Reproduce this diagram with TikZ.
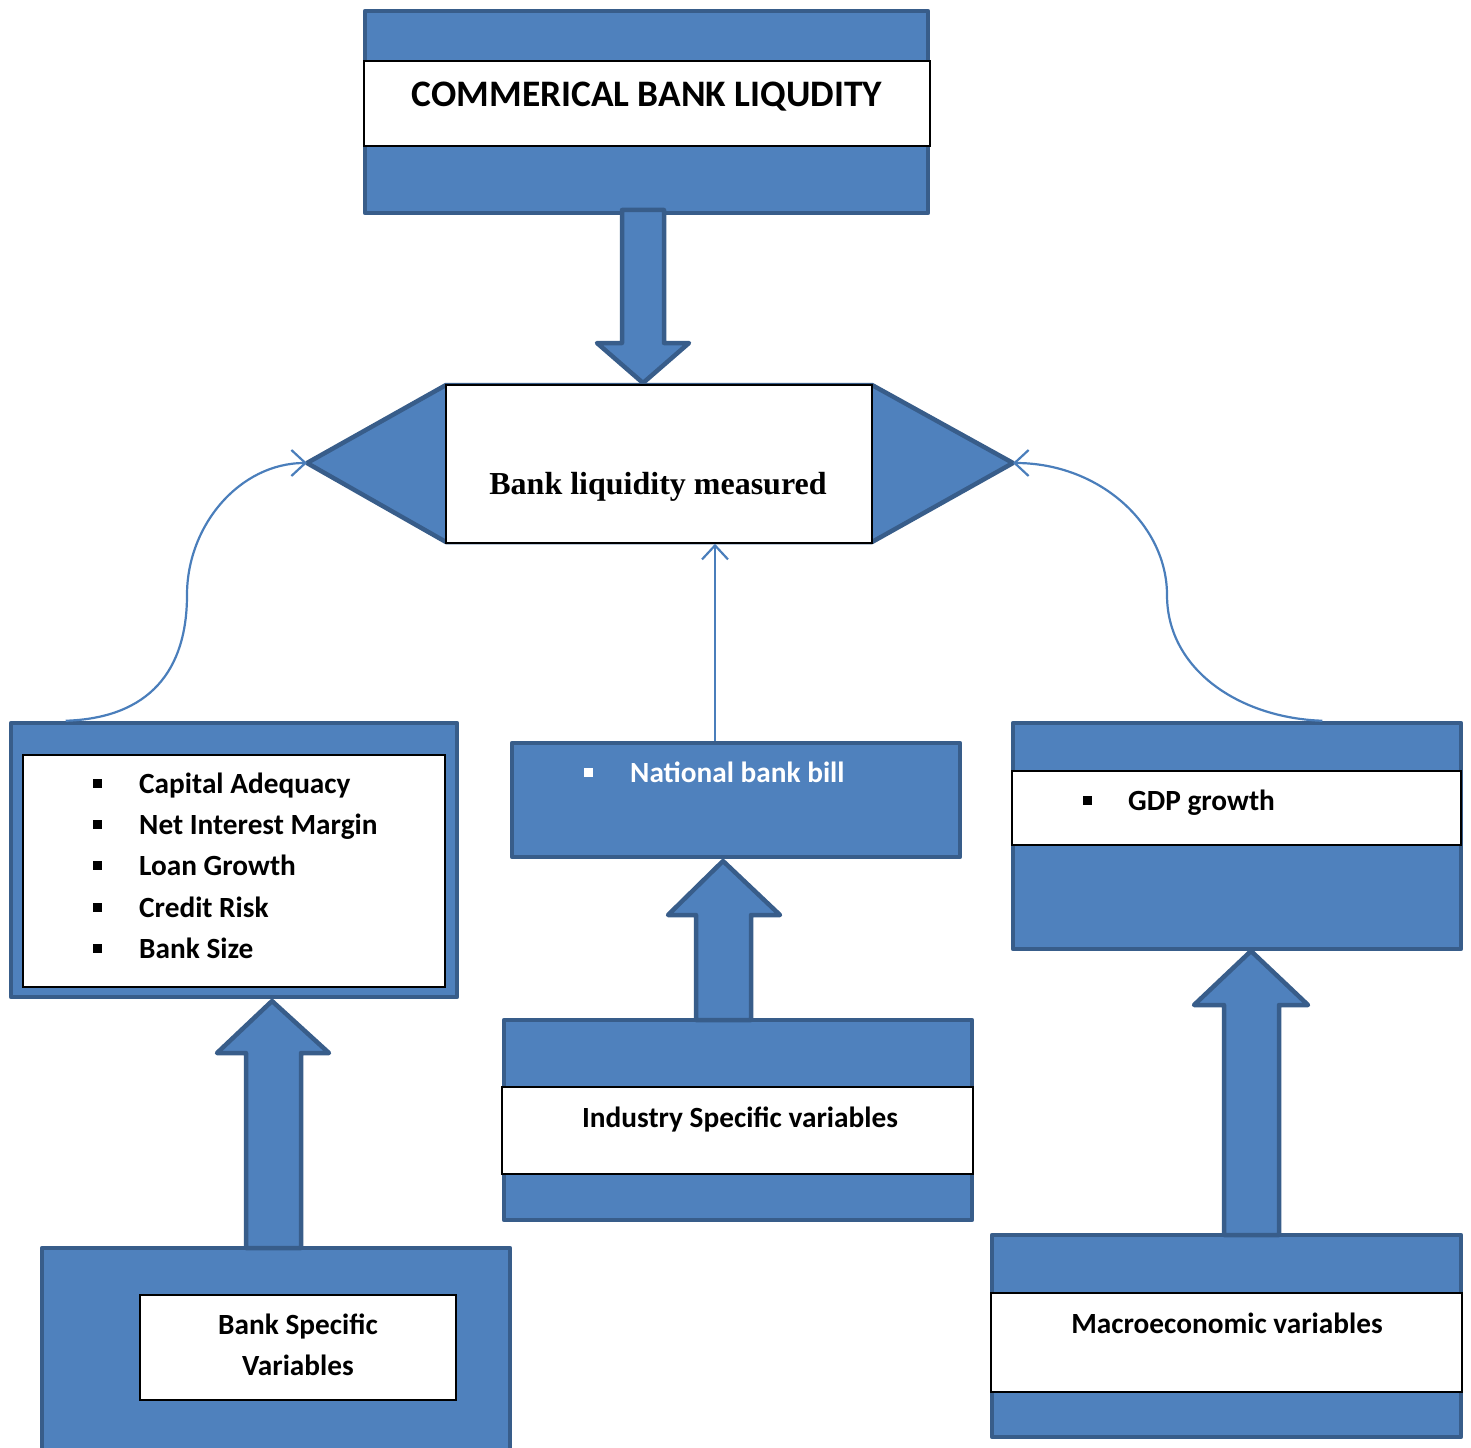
\documentclass[tikz,border=0pt]{standalone}
\usepackage{fontspec}
\setmainfont{Carlito}
\newfontfamily\timesf{Liberation Serif}
\usetikzlibrary{arrows.meta,fit}
\definecolor{fillb}{HTML}{4F81BD}
\definecolor{edgeb}{HTML}{385D8A}
\definecolor{linkb}{HTML}{4A7EBB}
\newcommand{\sqbul}{\raisebox{5.5pt}{\rule{9pt}{9pt}}}
\begin{document}
\begin{tikzpicture}[x=1pt,y=-1pt,
  blk/.style={draw=edgeb, fill=fillb, line width=4.5pt, line join=round, inner sep=0pt},
  band/.style={draw=black, fill=white, line width=1.6pt, inner sep=0pt},
  link/.style={draw=linkb, line width=2.2pt, -{Straight Barb[length=14pt,width=26pt,line width=2.2pt]}},
  lbl/.style={font=\bfseries\fontsize{29.3}{34}\selectfont, inner sep=0pt},
  ttl/.style={font=\bfseries\fontsize{37.4}{42}\selectfont, inner sep=0pt},
]
\useasboundingbox (0,0) rectangle (1471,1447);
\clip (0,0) rectangle (1471,1447);

% ---- top box
\node[blk, fit={(365,11) (928,213)}] (top) {};
\node[band, fit={(364,61) (930,146)}] (topband) {};
\node[ttl, anchor=base] (title) at (647,107) {COMMERICAL BANK LIQUDITY};

% ---- down arrow
\draw[blk] (622,210) -- (664,210) -- (664,343) -- (689,343) -- (643,383) -- (597,343) -- (622,343) -- cycle;

% ---- hexagon
\draw[blk] (307,463) -- (446,385) -- (872,385) -- (1013,463) -- (872,542) -- (446,542) -- cycle;
\node[band, fit={(446,385) (872,543)}] (meas) {};
\node[inner sep=0pt, anchor=base, font=\timesf\bfseries\fontsize{32}{36}\selectfont] (meastxt) at (658,494) {Bank liquidity measured};
\coordinate (hexL) at (307,463);
\coordinate (hexR) at (1013,463);

% ---- left list box
\node[blk, fit={(11,723) (457,997)}] (lbox) {};
\node[band, fit={(23,755) (445,987)}] (lband) {};
\foreach \t/\yy/\nm in {Capital Adequacy/793/i1, Net Interest Margin/834/i2, Loan Growth/875/i3, Credit Risk/917/i4, Bank Size/958/i5}{
  \node[lbl, anchor=base west] (b\nm) at (93,\yy) {\sqbul};
  \node[lbl, anchor=base west] (\nm) at (139,\yy) {\t};
}

% ---- national bank bill box
\node[blk, fit={(512,743) (960,857)}] (nbb) {};
\node[lbl, anchor=base west, text=white] (nbbul) at (584,782) {\sqbul};
\node[lbl, anchor=base west, text=white] (nbbtxt) at (630,782) {National bank bill};

% ---- industry box
\node[blk, fit={(504,1020) (972,1220)}] (ind) {};
\node[band, fit={(502,1087) (973,1174)}] (indband) {};
\node[lbl, anchor=base] (indtxt) at (740,1127) {Industry Specific variables};

% ---- GDP box
\node[blk, fit={(1013,723) (1461,949)}] (gdp) {};
\node[band, fit={(1012,771) (1461,845)}] (gdpband) {};
\node[lbl, anchor=base west] (gdpbul) at (1083,810) {\sqbul};
\node[lbl, anchor=base west] (gdptxt) at (1128,810) {GDP growth};

% ---- bank specific box
\node[blk, fit={(42,1248) (510,1470)}] (bsv) {};
\node[band, fit={(140,1295) (456,1400)}] (bsvband) {};
\node[lbl, anchor=base] (bsv1) at (298,1334) {Bank Specific};
\node[lbl, anchor=base] (bsv2) at (298,1375) {Variables};

% ---- macro box
\node[blk, fit={(992,1235) (1461,1437)}] (mac) {};
\node[band, fit={(991,1293) (1462,1392)}] (macband) {};
\node[lbl, anchor=base] (mactxt) at (1227,1333) {Macroeconomic variables};

% ---- block up arrows
\draw[blk] (246,1248) -- (246,1053) -- (217,1053) -- (272,1001) -- (329,1053) -- (301,1053) -- (301,1248) -- cycle;
\draw[blk] (696,1020) -- (696,915) -- (668,915) -- (723,861) -- (780,915) -- (751,915) -- (751,1020) -- cycle;
\draw[blk] (1224,1235) -- (1224,1005) -- (1194,1005) -- (1251,951) -- (1308,1005) -- (1279,1005) -- (1279,1235) -- cycle;

% ---- thin connectors
\draw[link] ([xshift=57pt]lbox.north west) .. controls (150,718) and (187,670) .. (187,595) .. controls (187,525) and (240,463) .. (hexL);
\draw[link] ([xshift=-141pt]gdp.north east) .. controls (1240,718) and (1167,670) .. (1167,595) .. controls (1167,525) and (1100,463) .. (hexR);
\draw[link] ([xshift=-21pt]nbb.north) -- ([xshift=56pt]meas.south);
\end{tikzpicture}
\end{document}
